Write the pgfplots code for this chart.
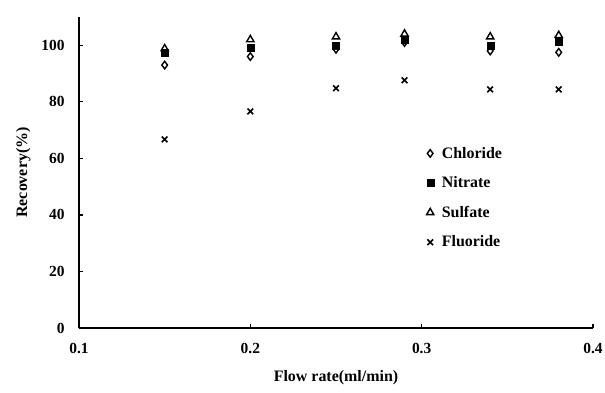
\documentclass[border=0pt]{standalone}
\usepackage{fontspec}
\setmainfont{Liberation Serif}
\usepackage{pgfplots}
\pgfplotsset{compat=1.18}
\begin{document}
\begin{tikzpicture}[x=1bp,y=1bp]
\begin{axis}[
  at={(0bp,0bp)}, anchor=south west,
  scale only axis, width=514bp, height=311bp,
  xmin=0.1, xmax=0.4, ymin=0, ymax=110,
  axis x line*=bottom, axis y line*=left,
  axis line style={line width=1.8bp},
  xtick={0.1,0.2,0.3,0.4}, ytick={0,20,40,60,80,100},
  xticklabels={0.1,0.2,0.3,0.4},
  tick align=inside, major tick length=4bp,
  tick style={line width=1.2bp, black},
  /pgf/number format/assume math mode=true,
  ticklabel style={font=\fontsize{15.5}{17}\selectfont\bfseries},
  xticklabel style={yshift=-12bp},
  yticklabel style={xshift=-11bp},
  xlabel={Flow rate(ml/min)}, ylabel={Recovery(\%)},
  label style={font=\fontsize{16}{18}\selectfont\bfseries},
  xlabel style={yshift=-10bp},
  ylabel style={yshift=4bp},
  legend style={draw=none, fill=none, at={(0.67,0.595)}, anchor=north west,
    font=\fontsize{16}{18}\selectfont\bfseries, row sep=13bp,
    legend cell align=left,
    /tikz/every odd column/.style={column sep=6bp}},
  legend image code/.code={\draw[#1] plot coordinates {(0.15cm,0cm)};},
  clip=false,
]
\addplot[only marks, mark=diamond, mark size=3.8bp, mark options={line width=1.4bp, draw=black, fill=white}]
 coordinates {(0.15,93) (0.2,96) (0.25,98.6) (0.29,101) (0.34,98) (0.38,97.5)};
\addlegendentry{Chloride}
\addplot[only marks, mark=square*, mark size=3.5bp, mark options={draw=black, fill=black}]
 coordinates {(0.15,97.2) (0.2,99.3) (0.25,99.8) (0.29,102) (0.34,100) (0.38,101.4)};
\addlegendentry{Nitrate}
\addplot[only marks, mark=triangle, mark size=4.2bp, mark options={line width=1.4bp, draw=black, fill=white}]
 coordinates {(0.15,98.8) (0.2,102) (0.25,103) (0.29,104) (0.34,103) (0.38,103.5)};
\addlegendentry{Sulfate}
\addplot[only marks, mark=x, mark size=4bp, mark options={line width=1.6bp, draw=black}]
 coordinates {(0.15,66.7) (0.2,76.6) (0.25,84.8) (0.29,87.6) (0.34,84.4) (0.38,84.4)};
\addlegendentry{Fluoride}
\end{axis}
\pgfresetboundingbox
\path (-79bp,-65bp) rectangle (526bp,328bp);
\end{tikzpicture}
\end{document}
